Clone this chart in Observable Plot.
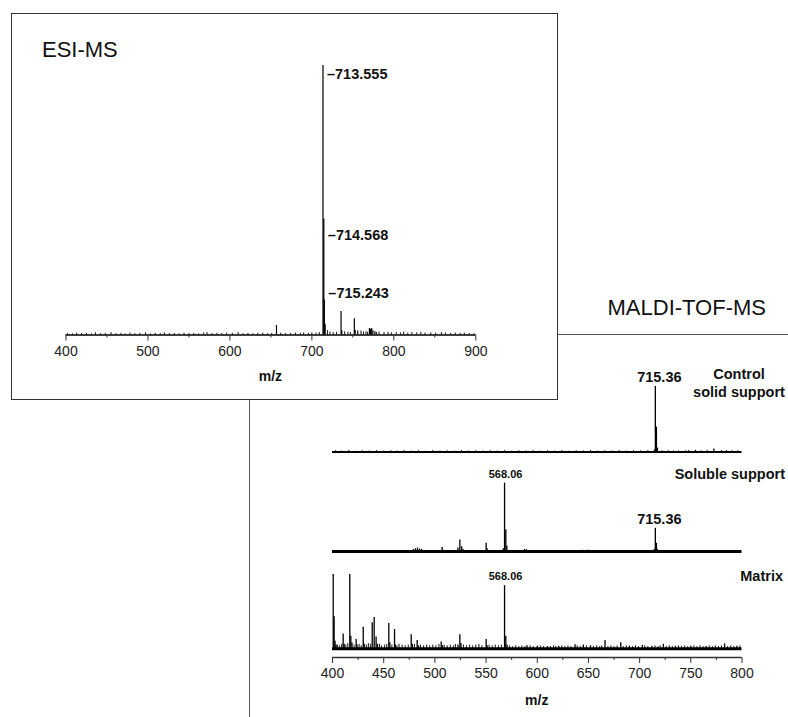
<!DOCTYPE html>
<html><head><meta charset="utf-8">
<script src="https://cdn.jsdelivr.net/npm/d3@7"></script>
<script src="https://cdn.jsdelivr.net/npm/@observablehq/plot@0.6"></script>
<style>
html,body{margin:0;padding:0;background:#fff;}
#fig{position:relative;width:788px;height:717px;overflow:hidden;font-family:"Liberation Sans",Arial,sans-serif;color:#111;}
.abs{position:absolute;}
.lbl{position:absolute;line-height:0;white-space:nowrap;}
</style></head><body><div id="fig"></div>
<script>
// ---------- ESI-MS data ----------
const esiTicks = [400, 500, 600, 700, 800, 900];
const esiMinor = [450, 550, 650, 750, 850];
const esiPeaks = [[656.8,3.5],[713.555,100],[714.568,43],[715.243,13],[716.2,4],[735.6,8.7],[736.5,1.6],[751.8,6],[752.8,1.8],[756.0,1.5],[770.2,2.4],[771.5,2.1],[773.0,2.4],[774.5,1.6],[777.0,1.2]];
const esiNoise = [[402,0.6],[408,0.4],[413,0.7],[419,0.5],[425,0.6],[431,0.4],[436,0.8],[442,0.5],[448,0.6],[455,0.9],[461,0.5],[467,0.6],[472,0.4],[478,0.7],[484,0.5],[490,0.6],[497,0.8],[503,0.4],[509,0.6],[515,0.5],[520,0.8],[526,0.5],[532,0.6],[538,0.4],[544,0.7],[550,0.5],[556,0.6],[562,0.4],[568,0.7],[572,0.9],[578,0.5],[584,0.6],[590,0.5],[596,0.7],[603,0.6],[610,0.9],[616,0.5],[622,0.6],[628,0.5],[634,0.6],[640,0.7],[646,0.5],[651,0.6],[662,0.7],[668,0.5],[674,0.6],[680,0.7],[686,0.6],[690,0.8],[696,0.6],[700,0.8],[705,0.7],[709,0.9],[719,1.6],[722,1.1],[726,0.9],[730,1.0],[740,1.2],[744,1.0],[747,0.9],[760,1.5],[763,1.1],[766,1.2],[768,1.0],[779,1.0],[782,1.1],[788,0.9],[793,1.0],[797,0.8],[803,0.9],[808,0.8],[812,1.1],[817,0.7],[822,0.9],[828,0.8],[833,1.0],[838,0.7],[845,0.8],[851,0.7],[858,0.9],[863,0.7],[869,0.6],[875,0.7],[881,0.6],[886,0.7],[892,0.6],[898,0.5]];
const esiLabels = [{text:"713.555", mz:713.555, level:96.7},{text:"714.568", mz:714.568, level:36.9},{text:"715.243", mz:715.243, level:15.4}];

// ---------- MALDI-TOF-MS data ----------
const maldiTicks = [400, 450, 500, 550, 600, 650, 700, 750, 800];
const maldiMinor = [425, 475, 525, 575, 625, 675, 725, 775];
const spectrumNames = [["Control", "solid support"], ["Soluble support"], ["Matrix"]];
const controlPeaks = [[714.5,3],[715.36,100],[716.4,38],[717.4,6],[733,1.5],[745,1.5],[754.6,2.5],[772.5,4.5],[780,2]];
const controlNoise = [[403,2],[409,1.5],[416,2.5],[422,1.2],[429,2],[436,1.6],[443,2.2],[450,1.3],[457,2],[463,1.5],[470,2.4],[477,1.4],[484,2],[491,1.2],[498,2.3],[505,1.6],[512,2],[519,1.3],[526,2.2],[533,1.5],[540,2],[547,1.4],[554,2.4],[561,1.5],[568,2.1],[575,1.3],[582,2],[589,1.6],[596,2.3],[603,1.4],[610,2],[617,1.5],[624,2.2],[631,1.3],[638,2],[645,1.6],[652,2.4],[659,1.4],[666,2],[673,1.5],[680,2.2],[687,1.4],[694,2],[701,1.6],[708,2.3],[722,1.8],[728,2],[738,1.6],[748,2.2],[760,2],[766,2.5],[785,2.2],[790,1.8],[796,2]];
const solublePeaks = [[479,3],[481,4],[483,5],[485,3.5],[487,3],[507.1,6],[508.1,2],[522.5,5],[524.4,17],[526.2,7],[527.5,3],[550.1,12],[551.0,4],[566.8,4],[568.06,100],[569.3,32],[570.3,8],[587.6,3],[589.5,2.5],[608,1.5],[620,1],[644,2],[650,2],[665,1.2],[680,1],[714.4,3],[715.36,34],[716.4,12],[717.4,3],[733,1.2],[740,1],[760,1],[778,1.5],[782,1.5],[785,1.2],[790,1]];
const solubleNoise = [[412,1],[437,1],[463,1.2],[498,1],[515,1.2],[540,1],[560,1.2],[600,1],[630,1],[700,1],[750,1.2],[770,1]];
const matrixPeaks = [[400.7,100],[401.6,43],[402.5,10],[403.5,5],[410.4,20],[411.4,6],[416.9,100],[417.9,17],[419,8],[423.1,12.5],[424,5],[430,29],[431,6],[438.8,35],[440.7,42],[442.6,16],[444,6],[455,34],[456,8],[460.6,26],[461.5,5],[476.9,19],[478,6],[482.7,11],[484,4],[506.2,9],[507.3,4],[522.5,5],[524.4,19],[525.5,7],[550.1,12.5],[551,4],[568.06,85],[569.3,17],[570.5,5],[590,4],[600,3.5],[610,3],[621,3.5],[636.9,5.4],[645,5],[652,4],[666.2,11.3],[681.6,8],[690,3.5],[702.7,4.6],[712,3.5],[723.2,6],[735,3.5],[750,3.5],[765,3],[783,6.7],[795,3.5]];
const matrixNoise = [[405,5],[407,4],[409,6],[413,5],[415,7],[421,5],[426,6],[428,4],[433,5],[435,7],[437,6],[446,6],[448,4],[451,5],[453,6],[458,5],[463,4],[465,6],[468,5],[471,4],[474,5],[480,6],[486,5],[489,4],[492,5],[495,4],[498,5],[501,4],[504,6],[509,5],[512,4],[515,5],[518,4],[520,6],[528,5],[531,4],[534,5],[537,4],[540,5],[543,6],[546,4],[553,5],[556,4],[559,5],[562,4],[565,5],[573,4],[576,3],[579,4],[582,3],[585,4],[588,3],[593,4],[596,3],[603,4],[606,3],[613,3],[616,4],[618,3],[624,4],[627,3],[630,4],[633,3],[639,4],[642,3],[648,4],[655,3],[658,4],[661,3],[663,4],[669,3],[672,4],[675,3],[678,4],[684,3],[687,4],[693,3],[696,4],[699,3],[705,4],[708,3],[715,4],[718,3],[720,4],[726,3],[729,4],[732,3],[738,4],[741,3],[744,4],[747,3],[753,4],[756,3],[759,4],[762,3],[768,4],[771,3],[774,4],[777,3],[780,4],[786,3],[789,4],[792,3],[798,4]];
const maldiLabels = [
  {spectrum:"control", mz:715.36, text:"715.36", big:true},
  {spectrum:"soluble", mz:568.06, text:"568.06", big:false},
  {spectrum:"soluble", mz:715.36, text:"715.36", big:true},
  {spectrum:"matrix",  mz:568.06, text:"568.06", big:false}
];

// ---------- helpers ----------
const fig = document.getElementById("fig");
const FONT = '"Liberation Sans", Arial, sans-serif';
const style = {fontFamily: FONT, fontSize: "14px", color: "#222", background: "transparent", overflow: "visible"};
function place(el, left, top, z) {
  const d = document.createElement("div");
  d.className = "abs"; d.style.left = left + "px"; d.style.top = top + "px"; d.style.zIndex = z;
  d.appendChild(el); fig.appendChild(d); return d;
}
function label(str, x, y, size, weight, anchor, z) {
  const d = document.createElement("div");
  d.className = "lbl"; d.textContent = str;
  d.style.left = x + "px"; d.style.top = y + "px";
  d.style.fontSize = size + "px"; d.style.fontWeight = weight; d.style.zIndex = z || 5;
  d.style.transform = anchor === "middle" ? "translateX(-50%)" : anchor === "end" ? "translateX(-100%)" : "none";
  fig.appendChild(d);
}
const X = d => d[0], H = d => d[1];
const intensityOf = (peaks, mz) => peaks.find(p => p[0] === mz)[1];

// ---------- MALDI frame (partly hidden behind the ESI inset) ----------
const frame = document.createElement("div");
frame.className = "abs";
Object.assign(frame.style, {left: "249px", top: "334.25px", width: "560px", height: "420px", borderLeft: "1.5px solid #555", borderTop: "1.5px solid #555", zIndex: 0});
fig.appendChild(frame);

// ---------- MALDI spectra ----------
function spectrum(peaks, noise, key, layout) {
  const labs = maldiLabels.filter(l => l.spectrum === key).map(l => ({...l, y: intensityOf(peaks, l.mz)}));
  return Plot.plot({
    width: 788, height: layout.height,
    marginLeft: 332, marginRight: 46.5, marginTop: layout.mT, marginBottom: layout.mB,
    x: {domain: [400, 800], axis: null},
    y: {domain: [0, 100], axis: null},
    style,
    marks: [
      Plot.ruleX(noise, {x: X, y1: 0, y2: H, stroke: "#111", strokeWidth: 1}),
      Plot.ruleY([0], {stroke: "#000", strokeWidth: layout.base}),
      Plot.ruleX(peaks, {x: X, y1: 0, y2: H, stroke: "#000", strokeWidth: 1.3}),
      Plot.text(labs.filter(l => l.big), {x: "mz", y: "y", text: "text", dx: 4, dy: -9, fontSize: 14.5, fontWeight: "bold", fill: "#111"}),
      Plot.text(labs.filter(l => !l.big), {x: "mz", y: "y", text: "text", dx: 1, dy: -9, fontSize: 11, fontWeight: "bold", fill: "#111"})
    ]
  });
}
place(spectrum(controlPeaks, controlNoise, "control", {height: 105.5, mT: 36, mB: 4, base: 1.8}), 0, 350, 1);
place(spectrum(solublePeaks, solubleNoise, "soluble", {height: 95, mT: 22.7, mB: 4, base: 3}), 0, 460, 1);
place(spectrum(matrixPeaks, matrixNoise, "matrix", {height: 92.3, mT: 14, mB: 4, base: 3}), 0, 560, 1);

// shared m/z axis for MALDI
place(Plot.plot({
  width: 788, height: 62, marginLeft: 332, marginRight: 46.5, marginTop: 0, marginBottom: 61,
  x: {domain: [400, 800]}, y: {domain: [0, 1], axis: null}, style,
  marks: [
    Plot.ruleY([0], {stroke: "#333", strokeWidth: 1.3}),
    Plot.axisX({ticks: maldiTicks, tickSize: 6, tickPadding: 5, fontSize: 14, label: null, stroke: "#333"}),
    Plot.axisX({ticks: maldiMinor, tickSize: 3, tickFormat: () => "", label: null, stroke: "#333"})
  ]
}), 0, 655.5, 1);

// ---------- ESI inset ----------
const box = document.createElement("div");
box.className = "abs";
Object.assign(box.style, {left: "10.5px", top: "12.5px", width: "547.5px", height: "387px", boxSizing: "border-box", border: "1.3px solid #333", background: "#fff", zIndex: 2});
fig.appendChild(box);

place(Plot.plot({
  width: 558, height: 400, marginLeft: 65.5, marginRight: 82.7, marginTop: 65, marginBottom: 65.5,
  x: {domain: [400, 900]}, y: {domain: [0, 100], axis: null}, style,
  marks: [
    Plot.ruleX(esiNoise, {x: X, y1: 0, y2: H, stroke: "#111", strokeWidth: 1}),
    Plot.ruleY([0], {stroke: "#000", strokeWidth: 1.5}),
    Plot.ruleX(esiPeaks, {x: X, y1: 0, y2: H, stroke: "#000", strokeWidth: 1.2}),
    Plot.axisX({ticks: esiTicks, tickSize: 6, tickPadding: 5.5, fontSize: 14, label: null, stroke: "#333"}),
    Plot.axisX({ticks: esiMinor, tickSize: 3, tickFormat: () => "", label: null, stroke: "#333"}),
    Plot.text(esiLabels, {x: "mz", y: "level", text: d => "\u2013" + d.text, textAnchor: "start", dx: 4, fontSize: 14.5, fontWeight: "bold", fill: "#111"})
  ]
}), 0, 0, 3);

// ---------- titles and names ----------
label("ESI-MS", 42, 50.2, 22, "normal", "start", 5);
label("m/z", 270.4, 376, 14, "bold", "middle", 5);
label("MALDI-TOF-MS", 766, 308, 22, "normal", "end", 5);
label(spectrumNames[0][0], 739, 374, 14.5, "bold", "middle", 5);
label(spectrumNames[0][1], 739, 391.7, 14.5, "bold", "middle", 5);
label(spectrumNames[1][0], 785, 473.5, 14.5, "bold", "end", 5);
label(spectrumNames[2][0], 783, 576, 14.5, "bold", "end", 5);
label("m/z", 536.75, 700, 14, "bold", "middle", 5);
</script></body></html>
